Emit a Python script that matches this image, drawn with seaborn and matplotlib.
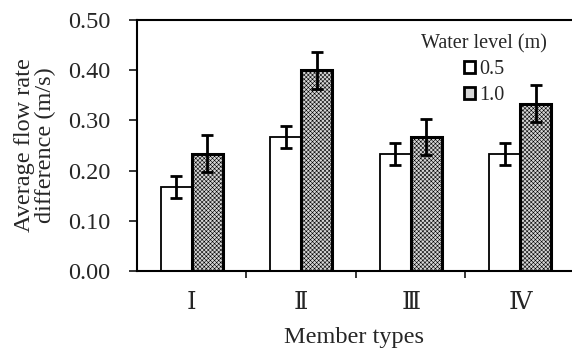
import numpy as np
import pandas as pd
import matplotlib
matplotlib.use("Agg")
import matplotlib.pyplot as plt
import seaborn as sns

# données
member_types = ["Ⅰ", "Ⅱ", "Ⅲ", "Ⅳ"]
water_levels = ["0.5", "1.0"]
flow_05 = [0.167, 0.267, 0.233, 0.233]
flow_10 = [0.234, 0.400, 0.267, 0.333]
err_05 = [0.022, 0.021, 0.021, 0.021]
err_10 = [0.037, 0.037, 0.036, 0.037]

df = pd.DataFrame({
    "Member": member_types * 2,
    "Level": [water_levels[0]] * 4 + [water_levels[1]] * 4,
    "Flow": flow_05 + flow_10,
    "Err": err_05 + err_10,
})

sns.set_style("ticks")
plt.rcParams["font.family"] = ["Liberation Serif", "DejaVu Serif"]
plt.rcParams["hatch.color"] = "#a0a0a0"
plt.rcParams["hatch.linewidth"] = 0.4

fig = plt.figure(figsize=(5.72, 3.49), dpi=100)
ax = fig.add_axes([137 / 572, 1 - 271 / 349, 435 / 572, 251 / 349])

sns.barplot(data=df, x="Member", y="Flow", hue="Level", hue_order=water_levels,
            palette=["white", "#d6d6d6"], width=0.57, errorbar=None, ax=ax,
            edgecolor="black", linewidth=1.3, legend=True)

# barres grises : bord plus épais + trame
n = len(member_types)
for i, p in enumerate(ax.patches[:2 * n]):
    if i >= n:
        p.set_hatch("xxxxxxxx")
        p.set_linewidth(2.2)

# barres d'erreur
for i, p in enumerate(ax.patches[:2 * n]):
    xc = p.get_x() + p.get_width() / 2
    ax.errorbar(xc, df["Flow"][i], yerr=df["Err"][i], fmt="none", ecolor="black",
                elinewidth=2.0, capsize=4.5, capthick=2.0, zorder=5)

ax.set_ylim(0, 0.5)
ax.set_xlim(-0.5, 3.473)
ax.set_yticks(np.arange(0, 0.51, 0.1))
ax.set_yticklabels([f"{v:.2f}" for v in np.arange(0, 0.51, 0.1)], fontsize=17.5)
ax.set_xticks(range(n))
ax.set_xticklabels(member_types, fontsize=17.5)
ax.tick_params(axis="x", which="major", length=0, pad=16)
ax.set_xticks([0.5, 1.5, 2.5], minor=True)
ax.tick_params(axis="x", which="minor", length=5, width=1.3, direction="out")
ax.tick_params(axis="y", length=6, width=1.3, direction="out", pad=13)

for s in ["left", "bottom", "top"]:
    ax.spines[s].set_linewidth(1.5)
    ax.spines[s].set_color("black")
ax.spines["right"].set_visible(False)

ax.set_xlabel("Member types", fontsize=17.5, labelpad=9)
ax.set_ylabel("Average flow rate\ndifference (m/s)", fontsize=17.5, linespacing=1.0, labelpad=9)

handles, labels = ax.get_legend_handles_labels()
leg = ax.legend(handles, labels, title="Water level (m)", frameon=False, fontsize=14.5,
                title_fontsize=14.5, loc="upper center",
                bbox_to_anchor=(484 / 572, 1 - 22 / 349), bbox_transform=fig.transFigure,
                handlelength=0.55, handleheight=0.55, handletextpad=0.2,
                labelspacing=0.35, borderpad=0.1)
for h in leg.legend_handles:
    h.set_linewidth(2.0)

fig.savefig("out.png", dpi=100)
